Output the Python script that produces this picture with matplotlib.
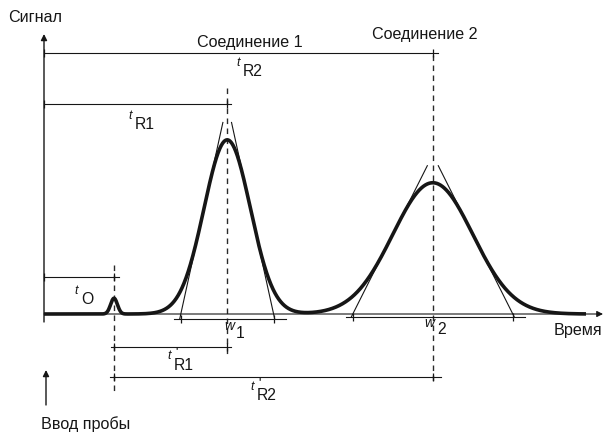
import numpy as np
import matplotlib
matplotlib.use("Agg")
import matplotlib.pyplot as plt

plt.rcParams['font.family'] = ['Liberation Sans', 'DejaVu Sans']

# ---- data (time units, signal units) ----
peak_names = ["inj", "Соединение 1", "Соединение 2"]
peak_times = [1.75, 4.58, 9.72]      # t0, tR1, tR2
peak_heights = [9.0, 99.5, 75.0]
peak_sigmas = [0.085, 0.58, 1.0]
time_end = 13.55

# figure geometry (pixel mapping)
W, H = 603, 432
X0, Y0 = 44, 314          # pixel of origin
SX, SY = 40.0, 1.75       # px per unit

fig = plt.figure(figsize=(W / 100, H / 100), dpi=100)
ax = fig.add_axes([0, 0, 1, 1])
ax.set_xlim(-X0 / SX, (W - X0) / SX)
ax.set_ylim(-(H - Y0) / SY, Y0 / SY)
ax.axis('off')


def px(x, y):
    return (x - X0) / SX, (Y0 - y) / SY


INK = '#161616'
thin = 0.8

# chromatogram curve
t = np.linspace(0, time_end, 2000)
sig = np.zeros_like(t)
for mu, h, s in zip(peak_times, peak_heights, peak_sigmas):
    sig += h * np.exp(-0.5 * ((t - mu) / s) ** 2)
ax.plot(t, sig, color=INK, lw=2.6, solid_capstyle='butt', zorder=5)

# axes arrows
ax.annotate('', xy=px(44, 34), xytext=px(44, 322),
            arrowprops=dict(arrowstyle='-|>', color=INK, lw=1.0,
                            mutation_scale=9, shrinkA=0, shrinkB=0))
ax.annotate('', xy=(px(603, 314)[0], 0), xytext=(0, 0),
            arrowprops=dict(arrowstyle='-|>', color=INK, lw=0.8,
                            mutation_scale=9, shrinkA=0, shrinkB=0))
# injection arrow
ax.annotate('', xy=px(46, 370), xytext=px(46, 405),
            arrowprops=dict(arrowstyle='-|>', color=INK, lw=1.0,
                            mutation_scale=9, shrinkA=0, shrinkB=0))

dash = dict(color='#2a2a2a', lw=1.0, ls=(0, (4.0, 3.2)))
# vertical dashed lines
t0, tr1, tr2 = peak_times
ax.plot([t0, t0], [px(0, 265)[1], px(0, 392)[1]], **dash)
ax.plot([tr1, tr1], [px(0, 88)[1], px(0, 357)[1]], **dash)
ax.plot([tr2, tr2], [px(0, 55)[1], px(0, 385)[1]], **dash)


def dimline(xa, xb, y, ext_a=0.0, ext_b=0.1):
    ax.plot([xa - ext_a, xb + ext_b], [y, y], color=INK, lw=thin)
    ax.plot([xa, xb], [y, y], ls='none', marker='|', ms=6, mew=0.9, color=INK)


# retention dimension lines
dimline(0, t0, px(0, 277)[1], 0, 0.12)
dimline(0, tr1, px(0, 104)[1], 0, 0.1)
dimline(0, tr2, px(0, 53)[1], 0, 0.12)
dimline(t0, tr1, px(0, 347)[1], 0.08, 0.1)
dimline(t0, tr2, px(0, 377)[1], 0.1, 0.2)

# tangents + width lines for the two compound peaks
w_offsets = [px(0, 319)[1], px(0, 317)[1]]
top_frac = [1.10, 1.13]
for i, (mu, h, s) in enumerate(zip(peak_times[1:], peak_heights[1:], peak_sigmas[1:])):
    slope = h * np.exp(-0.5) / s
    ybot = w_offsets[i]
    ytop = top_frac[i] * h
    for sgn in (-1, 1):
        xb = mu + sgn * (2 * s - ybot / slope)
        xt = mu + sgn * (2 * s - ytop / slope)
        ax.plot([xb, xt], [ybot, ytop], color=INK, lw=thin)
    dimline(mu - 2 * s, mu + 2 * s, ybot, 0.17, 0.3)

fs = 11.6
lab = 11.3
small = 9
# texts
ax.text(*px(8, 18), 'Сигнал', fontsize=fs, va='center', ha='left', color=INK)
ax.text(*px(250, 42), peak_names[1], fontsize=fs, va='center', ha='center', color=INK)
ax.text(*px(425, 35), peak_names[2], fontsize=fs, va='center', ha='center', color=INK)
ax.text(*px(554, 330), 'Время', fontsize=fs, va='center', ha='left', color=INK)
ax.text(*px(41, 424), 'Ввод пробы', fontsize=fs, va='center', ha='left', color=INK)


def tlabel(x, y, sub, prime=False):
    ax.text(*px(x - 5, y - 9), 't', fontsize=small, style='italic', va='center', ha='center', color=INK)
    if prime:
        ax.text(*px(x + 3, y - 14), "'", fontsize=7, fontweight='bold', va='center', ha='center', color=INK)
    ax.text(*px(x, y), sub, fontsize=lab, va='center', ha='left', color=INK)


tlabel(135, 125, 'R1')
tlabel(243, 72, 'R2')
tlabel(81, 300, 'O')
tlabel(174, 365, 'R1', prime=True)
tlabel(257, 396, 'R2', prime=True)

ax.text(*px(229, 326), 'w', fontsize=10, style='italic', va='center', ha='center', color=INK)
ax.text(*px(236, 333), '1', fontsize=lab, va='center', ha='left', color=INK)
ax.text(*px(429, 323), 'w', fontsize=10, style='italic', va='center', ha='center', color=INK)
ax.text(*px(437, 330), '2', fontsize=lab, va='center', ha='left', color=INK)

fig.savefig('out.png', dpi=100)
